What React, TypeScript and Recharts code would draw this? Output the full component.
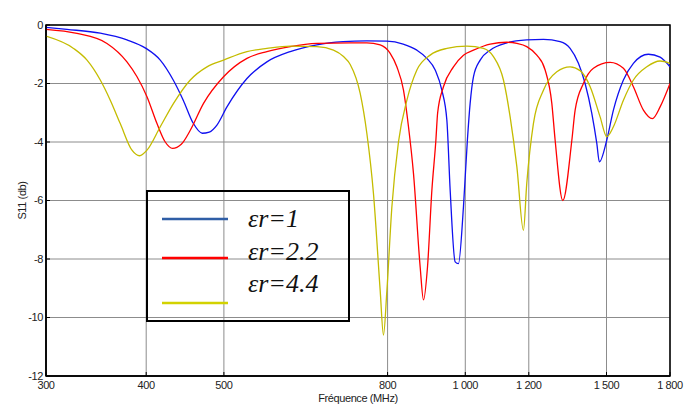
import { LineChart, Line, XAxis, YAxis, CartesianGrid, ReferenceArea, Legend } from "recharts";

document.body.style.margin = "0";

// frequencies in MHz, S11 in dB
const freqEr1 = [300, 318.6, 350.6, 378.5, 399.8, 416.5, 432.3, 444.9, 457.9, 469.8, 479.4, 490.1, 504.4, 534.2, 565.7, 604.9, 653, 704, 753.8, 798.4, 836.6, 870.2, 895.5, 917.2, 934.9, 948.4, 957.5, 971.3, 980.5, 994.7, 1006, 1014, 1023.7, 1043.6, 1074, 1126.7, 1193, 1251.5, 1313, 1351.2, 1383.8, 1410.6, 1438, 1458.8, 1469.6, 1501, 1530, 1574.6, 1620.4, 1691.7, 1749.5, 1800];
const s11Er1 = [-0.08, -0.15, -0.28, -0.51, -0.8, -1.2, -1.88, -2.57, -3.36, -3.7, -3.66, -3.42, -2.8, -1.83, -1.26, -0.91, -0.68, -0.57, -0.54, -0.55, -0.65, -0.86, -1.14, -1.54, -2.23, -3.25, -5.65, -8.1, -8.16, -6.22, -3.94, -2.68, -1.77, -1.2, -0.86, -0.61, -0.51, -0.49, -0.57, -0.8, -1.31, -2.0, -3.02, -4.05, -4.68, -3.94, -2.91, -1.88, -1.31, -1.0, -1.1, -1.43];

const freqEr22 = [300, 327.9, 357.4, 378.5, 389.6, 400.9, 412.6, 422.5, 431.5, 442.4, 454, 471.6, 499.5, 534.2, 565.7, 604.9, 653, 718.6, 753.8, 783.2, 806, 821.6, 837.4, 849.5, 861.8, 878.5, 886.9, 897.1, 908.5, 919, 923.7, 939.2, 966.6, 994.7, 1023.7, 1074, 1126.7, 1159.6, 1193, 1228, 1257.7, 1282, 1294.3, 1323.2, 1357.9, 1370.8, 1403.8, 1444.7, 1515.7, 1574.6, 1620.4, 1667.7, 1711.3, 1749.5, 1800];
const s11Er22 = [-0.15, -0.29, -0.63, -1.26, -1.77, -2.45, -3.37, -4.0, -4.22, -4.08, -3.6, -2.68, -1.77, -1.14, -0.91, -0.74, -0.63, -0.61, -0.61, -0.68, -0.97, -1.43, -2.23, -3.48, -5.08, -8.28, -9.4, -8.28, -5.65, -3.94, -3.0, -2.11, -1.43, -1.03, -0.86, -0.65, -0.59, -0.63, -0.74, -1.03, -1.54, -2.68, -3.94, -6.0, -3.94, -2.91, -2.0, -1.48, -1.28, -1.48, -2.11, -2.91, -3.2, -2.8, -2.0];

const freqEr44 = [300, 324.7, 337.5, 350.6, 360.8, 371.3, 384, 392.5, 400.9, 416.5, 432.7, 454, 476.3, 499.5, 534.2, 565.7, 604.9, 653, 684.9, 704.9, 718.6, 739.5, 753.8, 768.2, 783.2, 790.6, 798.4, 809.9, 825.4, 845.6, 870.2, 904, 948.4, 1004.4, 1053.5, 1084.2, 1115.8, 1137.4, 1159.6, 1181.7, 1193, 1216, 1251.5, 1300.6, 1351.2, 1390.7, 1431.2, 1472.7, 1501, 1530, 1574.6, 1620.4, 1684, 1749.5, 1800];
const s11Er44 = [-0.38, -0.8, -1.2, -1.88, -2.57, -3.37, -4.28, -4.47, -4.28, -3.48, -2.68, -1.88, -1.43, -1.2, -0.91, -0.8, -0.72, -0.74, -0.86, -1.08, -1.35, -2.34, -3.71, -5.76, -9.08, -10.6, -9.08, -6.22, -4.0, -2.57, -1.54, -1.03, -0.8, -0.72, -0.8, -1.08, -1.88, -3.14, -4.85, -7.02, -5.42, -3.37, -2.23, -1.6, -1.43, -1.56, -2.11, -3.14, -3.82, -3.48, -2.57, -1.88, -1.43, -1.23, -1.31];

const xTicks = [300, 400, 500, 800, 1000, 1200, 1500, 1800];
const yTicks = [-12, -10, -8, -6, -4, -2, 0];

const toPoints = (fs: number[], vs: number[]) => fs.map((f, i) => ({ f, v: vs[i] }));

const series = [
  { name: "εr=1", data: toPoints(freqEr1, s11Er1), color: "#1010f0", legend: "#2f5ea6" },
  { name: "εr=2.2", data: toPoints(freqEr22, s11Er22), color: "#ff0000", legend: "#ff0000" },
  { name: "εr=4.4", data: toPoints(freqEr44, s11Er44), color: "#c4bc00", legend: "#d2d200" },
];

const fmtFreq = (v: number) =>
  v >= 1000 ? `${Math.floor(v / 1000)} ${String(v % 1000).padStart(3, "0")}` : String(v);

const tickFont = {
  fontFamily: "'Liberation Sans Narrow', 'Liberation Sans', Arial, sans-serif",
  fontSize: 11,
  letterSpacing: -0.4,
  fill: "#222",
};

// legend rows: line y, text baseline y (inside the box)
const legendRows = [
  { lineY: 27, textY: 35 },
  { lineY: 66, textY: 68 },
  { lineY: 111, textY: 100 },
];

function LegendBox({ payload }: any) {
  return (
    <div style={{ width: 204, height: 132, border: "2px solid #000", boxSizing: "border-box" }}>
      <svg width={200} height={128}>
        {(payload || []).map((p: any, i: number) => {
          const s = series.find((x) => x.name === p.value) || series[i];
          const row = legendRows[i];
          return (
            <g key={p.value}>
              <line x1={14} x2={80} y1={row.lineY} y2={row.lineY} stroke={s.legend} strokeWidth={2.5} />
              <text x={100} y={row.textY} fontFamily="'Liberation Serif', 'Times New Roman', serif" fontStyle="italic" fontSize={26} fill="#111">
                {p.value}
              </text>
            </g>
          );
        })}
      </svg>
    </div>
  );
}

export default function App() {
  return (
    <LineChart width={692} height={410} margin={{ top: 25, right: 22, bottom: 4, left: 6 }}>
      <CartesianGrid xAxisId="x" yAxisId="y" stroke="#8c8c8c" strokeWidth={1} />
      <XAxis
        xAxisId="x"
        type="number"
        dataKey="f"
        scale="log"
        domain={[300, 1800]}
        ticks={xTicks}
        allowDataOverflow
        tickFormatter={fmtFreq}
        tick={tickFont}
        tickSize={-4}
        tickMargin={9}
        tickLine={{ stroke: "#000" }}
        axisLine={{ stroke: "#000", strokeWidth: 1.5 }}
        height={30}
        label={{ value: "Fréquence (MHz)", position: "insideBottom", offset: 4, style: tickFont }}
      />
      <XAxis
        xAxisId="top"
        orientation="top"
        type="number"
        scale="log"
        domain={[300, 1800]}
        ticks={xTicks}
        allowDataOverflow
        tickFormatter={() => ""}
        tickSize={-4}
        tickLine={{ stroke: "#000" }}
        axisLine={false}
        height={0}
        label={{ value: "S11 (1 boucle)", position: "top", offset: 8, style: tickFont }}
      />
      <YAxis
        yAxisId="y"
        type="number"
        domain={[-12, 0]}
        ticks={yTicks}
        allowDataOverflow
        tick={tickFont}
        tickSize={-4}
        tickMargin={7}
        tickLine={{ stroke: "#000" }}
        axisLine={{ stroke: "#000", strokeWidth: 1.5 }}
        width={40}
        label={{ value: "S11 (db)", angle: -90, position: "insideLeft", offset: 16, style: { ...tickFont, textAnchor: "middle" } }}
      />
      <YAxis
        yAxisId="right"
        orientation="right"
        type="number"
        domain={[-12, 0]}
        ticks={yTicks}
        allowDataOverflow
        tickFormatter={() => ""}
        tickSize={-4}
        tickLine={{ stroke: "#000" }}
        axisLine={false}
        width={0}
      />
      <ReferenceArea
        xAxisId="x"
        yAxisId="y"
        x1={300}
        x2={1800}
        y1={-12}
        y2={0}
        fill="none"
        stroke="#000"
        strokeWidth={1.5}
        ifOverflow="visible"
      />
      {series.map((s) => (
        <Line
          key={s.name}
          xAxisId="x"
          yAxisId="y"
          data={s.data}
          dataKey="v"
          name={s.name}
          type="monotone"
          stroke={s.color}
          strokeWidth={1.3}
          dot={false}
          activeDot={false}
          isAnimationActive={false}
        />
      ))}
      <Legend
        layout="vertical"
        align="center"
        verticalAlign="middle"
        content={<LegendBox />}
        wrapperStyle={{ position: "absolute", left: 146, top: 190, width: 204, height: 132 }}
      />
    </LineChart>
  );
}
